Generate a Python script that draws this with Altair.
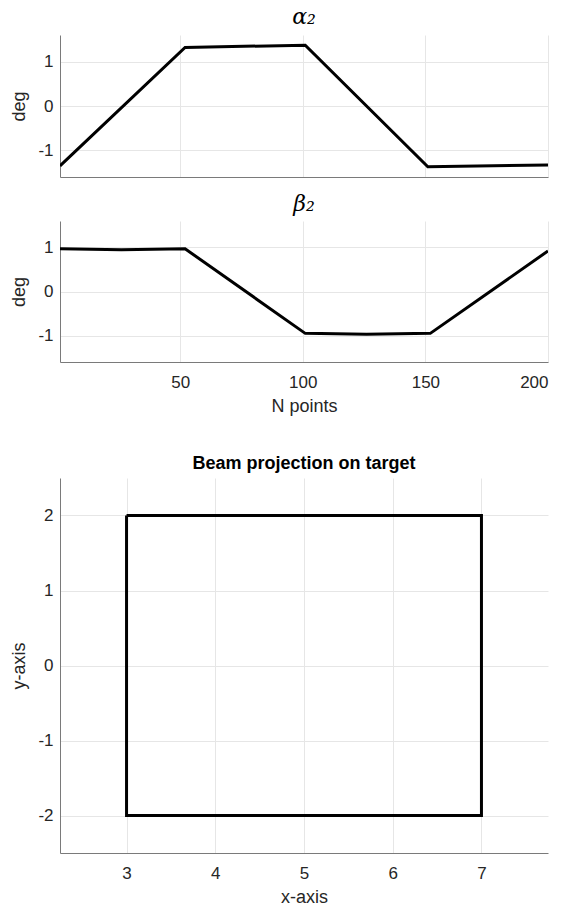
import altair as alt
import pandas as pd

# alpha_2 trajectory (breakpoints)
alpha_n = [1, 52, 101, 151, 200]
alpha_deg = [-1.35, 1.32, 1.37, -1.37, -1.33]

# beta_2 trajectory (breakpoints)
beta_n = [1, 26, 52, 101, 126, 152, 200]
beta_deg = [0.97, 0.95, 0.97, -0.95, -0.97, -0.95, 0.92]

# beam projection outline on target
beam_x = [3, 7, 7, 3, 3]
beam_y = [2, 2, -2, -2, 2]

n_ticks = [50, 100, 150, 200]
deg_ticks = [-1, 0, 1]
tx_ticks = [3, 4, 5, 6, 7]
ty_ticks = [-2, -1, 0, 1, 2]

FONT = "Liberation Sans"
TXT = "#262626"
AX = "#7a7a7a"
GRID = "#e6e6e6"
MINUS = "replace(datum.label, '\u2212', '-')"

alpha_df = pd.DataFrame({"n": alpha_n, "deg": alpha_deg})
beta_df = pd.DataFrame({"n": beta_n, "deg": beta_deg})
beam_df = pd.DataFrame({"x": beam_x, "y": beam_y, "o": list(range(len(beam_x)))})


def yaxis(vals, title):
    return alt.Axis(values=vals, title=title, grid=True, gridColor=GRID, ticks=False,
                    domainColor=AX, labelFont=FONT, labelFontSize=17, labelColor=TXT,
                    labelExpr=MINUS,
                    titleFont=FONT, titleFontSize=18, titleColor=TXT, titleFontWeight="normal",
                    labelPadding=7, titlePadding=9)


def xaxis(vals, title, labels=True):
    kw = dict(values=vals, grid=True, gridColor=GRID, ticks=False, domainColor=AX,
              labels=labels, labelFont=FONT, labelFontSize=17, labelColor=TXT,
              titleFont=FONT, titleFontSize=18, titleColor=TXT, titleFontWeight="normal",
              labelPadding=12, titlePadding=7)
    kw["title"] = title if title else None
    return alt.Axis(**kw)


alpha_chart = alt.Chart(alpha_df).mark_line(color="black", strokeWidth=3, clip=True).encode(
    x=alt.X("n:Q", scale=alt.Scale(domain=[1, 200], nice=False, zero=False), axis=xaxis(n_ticks, None, labels=False)),
    y=alt.Y("deg:Q", scale=alt.Scale(domain=[-1.6, 1.6], nice=False), axis=yaxis(deg_ticks, "deg")),
).properties(
    width=488, height=142,
    title=alt.TitleParams("α₂", font="DejaVu Serif", fontStyle="italic", fontSize=22,
                          fontWeight="normal", color="black", offset=6),
)

beta_chart = alt.Chart(beta_df).mark_line(color="black", strokeWidth=3, clip=True).encode(
    x=alt.X("n:Q", scale=alt.Scale(domain=[1, 200], nice=False, zero=False), axis=xaxis(n_ticks, "N points")),
    y=alt.Y("deg:Q", scale=alt.Scale(domain=[-1.6, 1.6], nice=False), axis=yaxis(deg_ticks, "deg")),
).properties(
    width=488, height=141,
    title=alt.TitleParams("β₂", font="DejaVu Serif", fontStyle="italic", fontSize=22,
                          fontWeight="normal", color="black", offset=5),
)

beam_chart = alt.Chart(beam_df).mark_line(color="black", strokeWidth=3).encode(
    x=alt.X("x:Q", scale=alt.Scale(domain=[2.25, 7.75], nice=False, zero=False), axis=xaxis(tx_ticks, "x-axis")),
    y=alt.Y("y:Q", scale=alt.Scale(domain=[-2.5, 2.5], nice=False), axis=yaxis(ty_ticks, "y-axis")),
    order="o:Q",
).properties(
    width=488, height=375,
    title=alt.TitleParams("Beam projection on target", font=FONT, fontSize=18,
                          fontWeight="bold", color="black", offset=5),
)

top = alt.vconcat(alpha_chart, beta_chart, spacing=16)

chart = alt.vconcat(top, beam_chart, spacing=40).properties(
    padding={"left": 10, "top": 6, "right": 4, "bottom": 4}
).configure_view(stroke=None)

chart.save("out.html", embed_options={"renderer": "svg", "actions": False})
